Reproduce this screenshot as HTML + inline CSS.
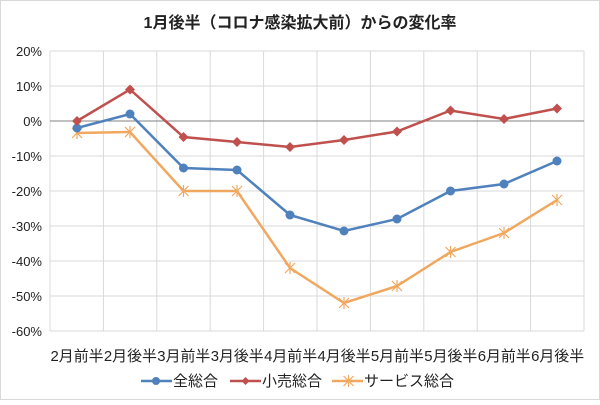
<!DOCTYPE html>
<html><head><meta charset="utf-8"><style>
body{margin:0;background:#fff}
text{font-family:"Liberation Sans","Noto Sans CJK JP",sans-serif}
</style></head><body>
<svg width="600" height="400" xmlns="http://www.w3.org/2000/svg">
<rect x="0.5" y="0.5" width="599" height="399" fill="#fff" stroke="#d9d9d9"/>
<text x="300" y="28" font-size="16" font-weight="bold" text-anchor="middle" fill="#222">1月後半（コロナ感染拡大前）からの変化率</text>
<g stroke="#d9d9d9" stroke-width="1">
<line x1="50" y1="51" x2="584" y2="51"/><line x1="50" y1="86" x2="584" y2="86"/>
<line x1="50" y1="156" x2="584" y2="156"/><line x1="50" y1="191" x2="584" y2="191"/>
<line x1="50" y1="226" x2="584" y2="226"/><line x1="50" y1="261" x2="584" y2="261"/>
<line x1="50" y1="296" x2="584" y2="296"/><line x1="50" y1="331" x2="584" y2="331"/>
<line x1="50" y1="51" x2="50" y2="331"/><line x1="103.4" y1="51" x2="103.4" y2="331"/>
<line x1="156.8" y1="51" x2="156.8" y2="331"/><line x1="210.2" y1="51" x2="210.2" y2="331"/>
<line x1="263.6" y1="51" x2="263.6" y2="331"/><line x1="317" y1="51" x2="317" y2="331"/>
<line x1="370.4" y1="51" x2="370.4" y2="331"/><line x1="423.8" y1="51" x2="423.8" y2="331"/>
<line x1="477.2" y1="51" x2="477.2" y2="331"/><line x1="530.6" y1="51" x2="530.6" y2="331"/>
<line x1="584" y1="51" x2="584" y2="331"/>
</g>
<line x1="50" y1="121" x2="584" y2="121" stroke="#808080"/>
<g font-size="13" fill="#222" text-anchor="end">
<text x="42" y="56">20%</text><text x="42" y="91">10%</text><text x="42" y="126">0%</text>
<text x="42" y="161">-10%</text><text x="42" y="196">-20%</text><text x="42" y="231">-30%</text>
<text x="42" y="266">-40%</text><text x="42" y="301">-50%</text><text x="42" y="336">-60%</text>
</g>
<g font-size="15" fill="#222" text-anchor="middle">
<text x="77" y="361" textLength="53" lengthAdjust="spacingAndGlyphs">2月前半</text><text x="130.4" y="361" textLength="53" lengthAdjust="spacingAndGlyphs">2月後半</text><text x="183.8" y="361" textLength="53" lengthAdjust="spacingAndGlyphs">3月前半</text>
<text x="237.2" y="361" textLength="53" lengthAdjust="spacingAndGlyphs">3月後半</text><text x="290.6" y="361" textLength="53" lengthAdjust="spacingAndGlyphs">4月前半</text><text x="344" y="361" textLength="53" lengthAdjust="spacingAndGlyphs">4月後半</text>
<text x="397.4" y="361" textLength="53" lengthAdjust="spacingAndGlyphs">5月前半</text><text x="450.8" y="361" textLength="53" lengthAdjust="spacingAndGlyphs">5月後半</text><text x="504.2" y="361" textLength="53" lengthAdjust="spacingAndGlyphs">6月前半</text>
<text x="557.6" y="361" textLength="53" lengthAdjust="spacingAndGlyphs">6月後半</text>
</g>
<polyline fill="none" stroke="#f0a860" stroke-width="2.5" points="77,133 130,132 183.5,191 237,191 290,268 344,303 397,286 450.5,252 504,233 557,200"/>
<g stroke="#f0a860" stroke-width="1.2">
<path d="M72,128l10,10M82,128l-10,10M77,127v12M125,127l10,10M135,127l-10,10M130,126v12M178.5,186l10,10M188.5,186l-10,10M183.5,185v12M232,186l10,10M242,186l-10,10M237,185v12M285,263l10,10M295,263l-10,10M290,262v12M339,298l10,10M349,298l-10,10M344,297v12M392,281l10,10M402,281l-10,10M397,280v12M445.5,247l10,10M455.5,247l-10,10M450.5,246v12M499,228l10,10M509,228l-10,10M504,227v12M552,195l10,10M562,195l-10,10M557,194v12"/>
</g>
<polyline fill="none" stroke="#4f81bd" stroke-width="2.5" points="77,128 130,114 183.5,168 237,170 290,215 344,231 397,219 450.5,191 504,184 557,161"/>
<g fill="#4f81bd">
<circle cx="77" cy="128" r="4.5"/><circle cx="130" cy="114" r="4.5"/><circle cx="183.5" cy="168" r="4.5"/><circle cx="237" cy="170" r="4.5"/><circle cx="290" cy="215" r="4.5"/><circle cx="344" cy="231" r="4.5"/><circle cx="397" cy="219" r="4.5"/><circle cx="450.5" cy="191" r="4.5"/><circle cx="504" cy="184" r="4.5"/><circle cx="557" cy="161" r="4.5"/>
</g>
<polyline fill="none" stroke="#c0504d" stroke-width="2.5" points="77,121 130,89.5 183.5,137 237,142 290,147 344,140 397,131.5 450.5,110.5 504,119 557,108.5"/>
<g fill="#c0504d">
<path d="M77,116l5,5-5,5-5-5zM130,84.5l5,5-5,5-5-5zM183.5,132l5,5-5,5-5-5zM237,137l5,5-5,5-5-5zM290,142l5,5-5,5-5-5zM344,135l5,5-5,5-5-5zM397,126.5l5,5-5,5-5-5zM450.5,105.5l5,5-5,5-5-5zM504,114l5,5-5,5-5-5zM557,103.5l5,5-5,5-5-5z"/>
</g>
<line x1="141" y1="381" x2="172" y2="381" stroke="#4f81bd" stroke-width="2.5"/><circle cx="156" cy="381" r="4" fill="#4f81bd"/>
<text x="173" y="386" font-size="15" fill="#222">全総合</text>
<line x1="230" y1="381" x2="261" y2="381" stroke="#c0504d" stroke-width="2.5"/><path d="M245.5,377l4,4-4,4-4-4z" fill="#c0504d"/>
<text x="262" y="386" font-size="15" fill="#222">小売総合</text>
<line x1="332" y1="381" x2="363" y2="381" stroke="#f0a860" stroke-width="2.5"/>
<path d="M343.5,376l10,10M353.5,376l-10,10M348.5,375v12" stroke="#f0a860" stroke-width="1.2"/>
<text x="364" y="386" font-size="15" fill="#222">サービス総合</text>
</svg>
</body></html>
